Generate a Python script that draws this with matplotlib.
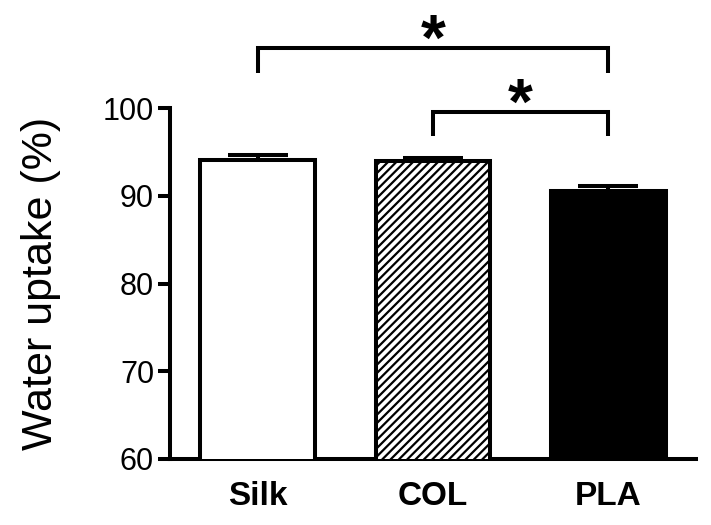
import matplotlib
matplotlib.use("Agg")
import matplotlib.pyplot as plt

plt.rcParams['font.family'] = ['Liberation Sans', 'DejaVu Sans']
plt.rcParams['hatch.linewidth'] = 1.6

categories = ["Silk", "COL", "PLA"]
values = [94.1, 94.0, 90.5]
errors = [0.5, 0.25, 0.6]
yticks = [60, 70, 80, 90, 100]
ylabel = "Water uptake (%)"
# significance brackets: (from index, to index, top y, leg bottom y, label)
brackets = [(0, 2, 106.8, 104.0, "*"), (1, 2, 99.5, 96.8, "*")]

fig = plt.figure(figsize=(7.11, 5.25), dpi=100)
ax = fig.add_axes([170/711, 1-459/525, 526/711, 351/525])

x = list(range(len(categories)))
lw = 2.9
faces = ["white", "white", "black"]
hatches = [None, "////", None]
bars = ax.bar(x, values, width=0.655, color=faces, edgecolor="black",
              linewidth=lw, zorder=3)
for b, h in zip(bars, hatches):
    if h:
        b.set_hatch(h)

ax.errorbar(x, values, yerr=[[0]*len(errors), errors], fmt="none",
            ecolor="black", elinewidth=lw, capsize=21.5, capthick=lw, zorder=2)

ax.set_xlim(-0.5, 2.5)
ax.set_ylim(60, 100)
ax.set_yticks(yticks)
ax.set_yticklabels([str(t) for t in yticks], fontsize=22)
ax.set_xticks(x)
ax.set_xticklabels(categories, fontsize=24, fontweight="bold")
ax.tick_params(axis="y", length=8.5, width=lw, pad=3)
ax.tick_params(axis="x", length=0, pad=16)
for s in ["top", "right"]:
    ax.spines[s].set_visible(False)
for s in ["left", "bottom"]:
    ax.spines[s].set_linewidth(lw)
ax.set_ylabel(ylabel, fontsize=31, labelpad=30)

for i0, i1, ytop, ybot, lab in brackets:
    ax.plot([i0, i0, i1, i1], [ybot, ytop, ytop, ybot], color="black",
            lw=lw, clip_on=False, solid_capstyle="butt", solid_joinstyle="miter")
    ax.text((i0 + i1) / 2, ytop - 1.3, lab, ha="center", va="baseline",
            fontsize=46, fontweight="bold", clip_on=False)

fig.savefig("out.png", dpi=100)
